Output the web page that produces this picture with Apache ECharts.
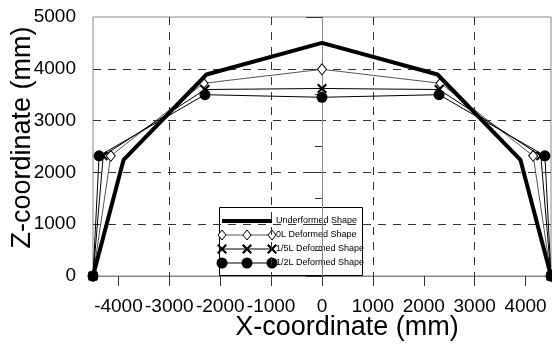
<!doctype html>
<html lang="en">
<head>
  <meta charset="UTF-8">
  <script src="https://cdn.jsdelivr.net/npm/echarts@6/dist/echarts.min.js"></script>
  <title>Deformed shapes</title>
  <style type="text/css">
    html, body { width: 100%; height: 100%; margin: 0; padding: 0; background: #fff; }
    #canvas { width: 552px; height: 347px; }
  </style>
</head>
<body>
<div id="canvas"></div>

<script type="text/javascript">
  // tick positions on the x axis (range is -4500..4500)
  const xTicks = [-4000, -3000, -2000, -1000, 0, 1000, 2000, 3000, 4000]

  // shapes: x and z coordinates (mm)
  const undeformedX = [-4500, -3900, -2270, 0, 2270, 3900, 4500]
  const undeformedZ = [0, 2240, 3890, 4500, 3890, 2240, 0]

  const zeroLX = [-4500, -4150, -2330, 0, 2330, 4150, 4500]
  const zeroLZ = [0, 2320, 3720, 3990, 3720, 2320, 0]

  const fifthLX = [-4500, -4300, -2300, 0, 2300, 4300, 4500]
  const fifthLZ = [0, 2320, 3600, 3620, 3600, 2320, 0]

  const halfLX = [-4500, -4380, -2300, 0, 2300, 4380, 4500]
  const halfLZ = [0, 2320, 3500, 3450, 3500, 2320, 0]

  const names = ['Underformed Shape', '0L Deformed Shape', '1/5L Deformed Shape', '1/2L Deformed Shape']

  const pairs = (xs, zs) => xs.map((x, i) => [x, zs[i]])

  const crossPath = 'path://M0,1.5L1.5,0L5,3.5L8.5,0L10,1.5L6.5,5L10,8.5L8.5,10L5,6.5L1.5,10L0,8.5L3.5,5Z'
  const font = 'Liberation Sans, Arial, sans-serif'

  const chart = echarts.init(document.getElementById('canvas'))

  // legend drawn by hand: line with three markers per row
  const legendRows = []
  const rowY = [221, 235, 249, 263]
  const markX = [222, 247, 272]
  rowY.forEach((y, r) => {
    legendRows.push({
      type: 'line',
      shape: { x1: 222, y1: y, x2: 272, y2: y },
      style: { stroke: r === 1 ? '#555' : '#000', lineWidth: r === 0 ? 4 : 1 }
    })
    if (r > 0) {
      markX.forEach(x => {
        if (r === 1) {
          legendRows.push({ type: 'polygon', shape: { points: [[x, y - 5], [x + 4, y], [x, y + 5], [x - 4, y]] },
            style: { fill: '#fff', stroke: '#000', lineWidth: 1 } })
        } else if (r === 2) {
          legendRows.push({ type: 'polygon', shape: { points: [[x - 5, y - 3.5], [x - 3.5, y - 5], [x, y - 1.5], [x + 3.5, y - 5], [x + 5, y - 3.5], [x + 1.5, y], [x + 5, y + 3.5], [x + 3.5, y + 5], [x, y + 1.5], [x - 3.5, y + 5], [x - 5, y + 3.5], [x - 1.5, y]] },
            style: { fill: '#000' } })
        } else {
          legendRows.push({ type: 'circle', shape: { cx: x, cy: y, r: 5.5 }, style: { fill: '#000' } })
        }
      })
    }
    legendRows.push({
      type: 'text', x: 276, y: y,
      style: { text: names[r], fill: '#000', font: '9px ' + font, textVerticalAlign: 'middle' }
    })
  })

  const plain = v => String(v)

  chart.setOption({
    animation: false,
    backgroundColor: '#fff',
    grid: { left: 93, right: 1, top: 17, bottom: 71, containLabel: false, outerBoundsMode: 'none',
      show: true, borderColor: '#888', borderWidth: 1 },
    graphic: [{
      type: 'group', z: -10,
      children: [{
        type: 'rect', shape: { x: 219.5, y: 207.5, width: 143, height: 68 },
        style: { fill: '#fff', stroke: '#000', lineWidth: 1 }
      }].concat(legendRows)
    }],
    xAxis: {
      type: 'value', min: -4500, max: 4500, interval: 500,
      name: 'X-coordinate (mm)', nameLocation: 'middle', nameGap: 38, nameMoveOverlap: false,
      nameTextStyle: { fontSize: 27, color: '#000', fontFamily: font, padding: [0, 0, 0, 50] },
      axisLine: { show: true, onZero: false, lineStyle: { color: '#888', width: 1 } },
      axisTick: { show: true, customValues: xTicks, length: 10, lineStyle: { color: '#333' } },
      axisLabel: { customValues: xTicks, formatter: plain, showMinLabel: true, showMaxLabel: true,
        fontSize: 19, color: '#000', margin: 21, fontFamily: font },
      // every other 500 line is hidden so the grid falls on the thousands
      splitLine: { show: true, lineStyle: { color: ['rgba(0,0,0,0)', '#333'], type: [8, 7] } }
    },
    yAxis: {
      type: 'value', min: 0, max: 5000, interval: 1000,
      name: 'Z-coordinate (mm)', nameLocation: 'middle', nameGap: 57, nameMoveOverlap: false,
      nameTextStyle: { fontSize: 27, color: '#000', fontFamily: font, padding: [0, 0, 0, 18] },
      axisLine: { show: true, lineStyle: { color: '#888', width: 1 } },
      axisTick: { show: true, length: 16, lineStyle: { color: '#333' } },
      minorTick: { show: true, splitNumber: 2, length: 7, lineStyle: { color: '#333' } },
      axisLabel: { formatter: plain, fontSize: 19, color: '#000', margin: 17, fontFamily: font },
      splitLine: { show: true, showMaxLine: false, lineStyle: { color: '#333', type: [8, 7] } }
    },
    series: [
      {
        name: names[1], type: 'line', data: pairs(zeroLX, zeroLZ),
        lineStyle: { color: '#555', width: 1 },
        symbol: 'diamond', symbolSize: [9, 11], showAllSymbol: true,
        itemStyle: { color: '#fff', borderColor: '#000', borderWidth: 1 }, z: 3
      },
      {
        name: names[2], type: 'line', data: pairs(fifthLX, fifthLZ),
        lineStyle: { color: '#000', width: 1 },
        symbol: crossPath, symbolSize: 10, showAllSymbol: true,
        itemStyle: { color: '#000' }, z: 4
      },
      {
        name: names[3], type: 'line', data: pairs(halfLX, halfLZ),
        lineStyle: { color: '#000', width: 1 },
        symbol: 'circle', symbolSize: 11, showAllSymbol: true,
        itemStyle: { color: '#000' }, z: 5
      },
      {
        name: names[0], type: 'line', data: pairs(undeformedX, undeformedZ),
        lineStyle: { color: '#000', width: 4 },
        showSymbol: false, z: 6
      }
    ]
  })
</script>
</body>
</html>
